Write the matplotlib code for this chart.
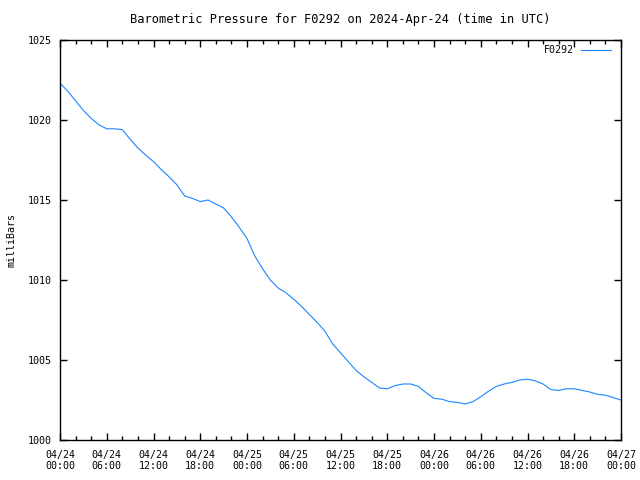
import numpy as np
from matplotlib import pyplot as plt
from matplotlib.lines import Line2D

plt.rc('font', family='DejaVu Sans Mono', size=7.2)

# hours since 2024-04-24 00:00 UTC
hours = list(range(73))
pressure = [1022.3, 1021.8, 1021.2, 1020.6, 1020.1, 1019.7, 1019.45, 1019.45, 1019.4, 1018.8,
            1018.25, 1017.8, 1017.4, 1016.9, 1016.45, 1015.95, 1015.25, 1015.1, 1014.9, 1015.0,
            1014.75, 1014.5, 1013.95, 1013.3, 1012.6, 1011.5, 1010.7, 1010.0, 1009.5, 1009.2,
            1008.8, 1008.35, 1007.85, 1007.35, 1006.8, 1006.0, 1005.45, 1004.9, 1004.35, 1003.95,
            1003.6, 1003.25, 1003.2, 1003.4, 1003.5, 1003.5, 1003.35, 1002.95, 1002.6, 1002.55,
            1002.4, 1002.35, 1002.25, 1002.4, 1002.7, 1003.05, 1003.35, 1003.5, 1003.6, 1003.75,
            1003.8, 1003.7, 1003.5, 1003.15, 1003.1, 1003.2, 1003.2, 1003.1, 1003.0, 1002.85,
            1002.8, 1002.65, 1002.5]

tick_hours = list(range(0, 73, 6))
tick_labels = ['04/24\n00:00', '04/24\n06:00', '04/24\n12:00', '04/24\n18:00',
               '04/25\n00:00', '04/25\n06:00', '04/25\n12:00', '04/25\n18:00',
               '04/26\n00:00', '04/26\n06:00', '04/26\n12:00', '04/26\n18:00',
               '04/27\n00:00']
y_ticks = [1000, 1005, 1010, 1015, 1020, 1025]

fig = plt.figure(figsize=(6.4, 4.8), dpi=100)
ax = fig.add_axes([60/640, 40/480, 561/640, 400/480])
col = '#1a86ff'
ax.plot(hours, pressure, color=col, lw=0.8)

ax.set_xlim(0, 72)
ax.set_ylim(1000, 1025)
ax.set_xticks(tick_hours)
ax.set_xticklabels(tick_labels)
ax.set_xticks(range(0, 73, 2), minor=True)
ax.set_yticks(y_ticks)
ax.tick_params(which='both', direction='in', top=True, right=True, width=1)
ax.tick_params(which='major', length=5)
ax.tick_params(which='minor', length=3)
ax.tick_params(axis='x', pad=7)
ax.tick_params(axis='y', pad=6)
for s in ax.spines.values():
    s.set_linewidth(1)

ax.set_title('Barometric Pressure for F0292 on 2024-Apr-24 (time in UTC)', pad=12)
ax.set_ylabel('milliBars', labelpad=8)

h = Line2D([], [], color=col, lw=0.8)
ax.legend([h], ['F0292'], loc='upper right', bbox_to_anchor=(611/640, 1 - 45/480),
          bbox_transform=fig.transFigure, frameon=False, markerfirst=False,
          handlelength=3.0, borderaxespad=0, borderpad=0, handletextpad=0.7)

fig.savefig('out.png', dpi=100)
